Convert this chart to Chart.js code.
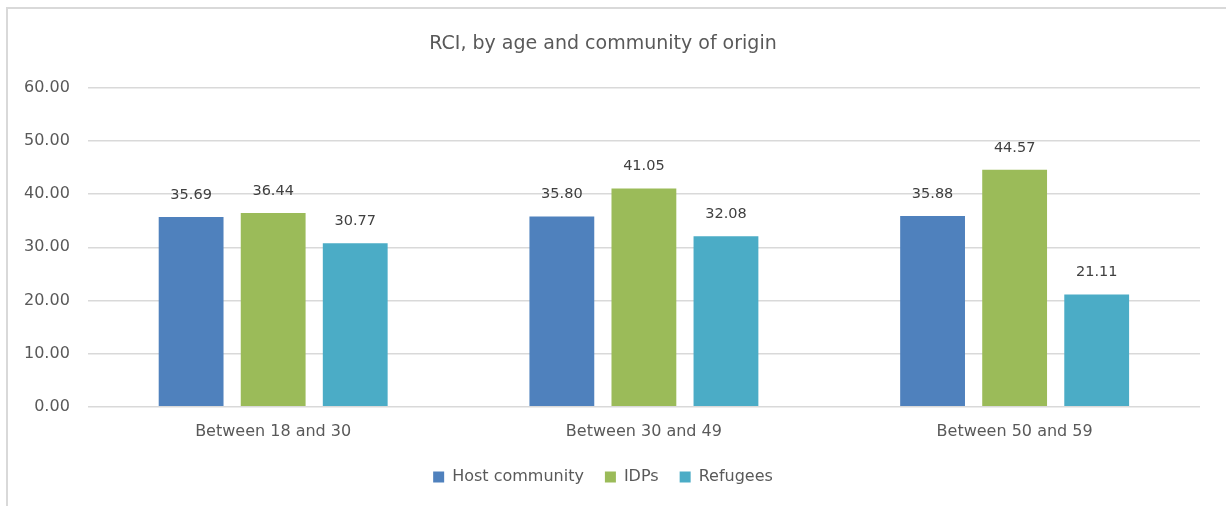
<!DOCTYPE html>
<html>
<head>
<meta charset="utf-8">
<script src="https://cdn.jsdelivr.net/npm/chart.js@4.4.0/dist/chart.umd.min.js"></script>
<style>
  body { margin: 0; background: #fff; }
  #wrap { position: relative; width: 1226px; height: 506px; }
  #frame { position: absolute; left: 6px; top: 7px; right: -10px; bottom: -10px;
           border-left: 2px solid #d9d9d9; border-top: 2px solid #d9d9d9; }
  canvas { position: absolute; left: 0; top: 0; }
</style>
</head>
<body>
<div id="wrap">
  <div id="frame"></div>
  <canvas id="rci-chart" width="1226" height="506"></canvas>
</div>
<script>
const categories = ['Between 18 and 30', 'Between 30 and 49', 'Between 50 and 59']

const hostCommunity = [35.69, 35.80, 35.88]
const idps = [36.44, 41.05, 44.57]
const refugees = [30.77, 32.08, 21.11]

const yTicks = [0, 10, 20, 30, 40, 50, 60]

const seriesNames = ['Host community', 'IDPs', 'Refugees']
const seriesColors = ['#4f81bd', '#9bbb59', '#4bacc6']

const fontFamily = '"DejaVu Sans", Verdana, sans-serif'

const datasets = [hostCommunity, idps, refugees].map((values, i) => ({
  label: seriesNames[i],
  data: values,
  backgroundColor: seriesColors[i],
  categoryPercentage: 0.664,
  barPercentage: 0.79
}))

// draws the value above every bar
const valueLabels = {
  id: 'valueLabels',
  afterDatasetsDraw(chart) {
    const ctx = chart.ctx
    ctx.save()
    ctx.font = '14.5px ' + fontFamily
    ctx.fillStyle = '#404040'
    ctx.textAlign = 'center'
    ctx.textBaseline = 'middle'
    chart.data.datasets.forEach((ds, i) => {
      chart.getDatasetMeta(i).data.forEach((bar, j) => {
        ctx.fillText(ds.data[j].toFixed(2), bar.x, bar.y - 22)
      })
    })
    ctx.restore()
  }
}

const config = {
  type: 'bar',
  data: { labels: categories, datasets: datasets },
  options: {
    responsive: false,
    animation: false,
    layout: { padding: { left: 6, right: 26, top: 29, bottom: 11 } },
    plugins: {
      title: {
        display: true,
        text: 'RCI, by age and community of origin',
        color: '#595959',
        font: { family: fontFamily, size: 19, weight: 'normal' },
        padding: { top: 4, bottom: 32 }
      },
      legend: {
        position: 'bottom',
        labels: {
          color: '#595959',
          font: { family: fontFamily, size: 16 },
          boxWidth: 11,
          boxHeight: 11,
          padding: 21
        }
      },
      tooltip: { enabled: false }
    },
    scales: {
      x: {
        grid: { display: false },
        border: { display: false },
        ticks: { color: '#595959', font: { family: fontFamily, size: 16 }, padding: 7 }
      },
      y: {
        min: yTicks[0],
        max: yTicks[yTicks.length - 1],
        afterBuildTicks: axis => { axis.ticks = yTicks.map(v => ({ value: v })) },
        grid: { color: '#d9d9d9', lineWidth: 1.5, drawTicks: false },
        border: { display: false },
        ticks: {
          color: '#595959',
          font: { family: fontFamily, size: 16 },
          padding: 18,
          callback: v => v.toFixed(2)
        }
      }
    }
  },
  plugins: [valueLabels]
}

const chart = new Chart(document.getElementById('rci-chart'), config)
</script>
</body>
</html>
